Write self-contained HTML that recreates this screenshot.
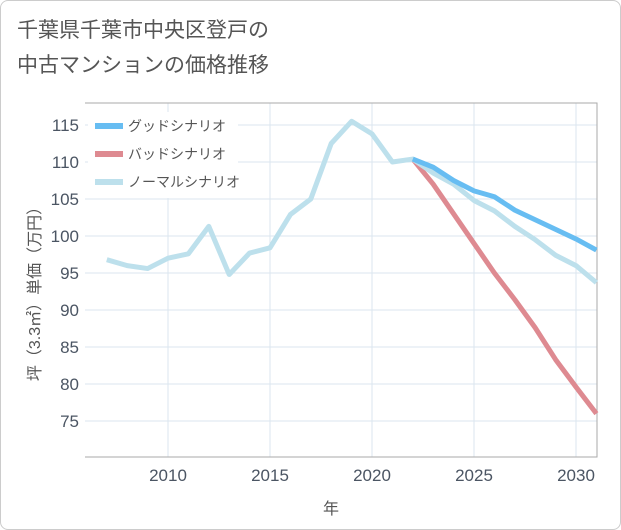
<!DOCTYPE html>
<html><head><meta charset="utf-8"><style>
body{margin:0;background:#fff;font-family:"Liberation Sans","Noto Sans CJK JP",sans-serif;}
#wrap{position:relative;width:619px;height:528px;border:1px solid #ccc;border-radius:8px;overflow:hidden;}
.title{position:absolute;left:16px;top:12px;font-size:21px;line-height:35px;color:#555;}
</style></head><body>
<div id="wrap">
<div class="title">千葉県千葉市中央区登戸の<br>中古マンションの価格推移</div>
<svg id="c" width="621" height="530" style="position:absolute;left:-1px;top:-1px"></svg>
</div>
<script>
const years=[2007,2008,2009,2010,2011,2012,2013,2014,2015,2016,2017,2018,2019,2020,2021,2022,2023,2024,2025,2026,2027,2028,2029,2030,2031];
const normalVals=[96.8,96,95.6,97,97.6,101.3,94.8,97.7,98.4,102.9,105,112.5,115.5,113.8,110,110.4,108.5,107,104.8,103.4,101.3,99.5,97.4,96,93.7];
const futureYears=[2022,2023,2024,2025,2026,2027,2028,2029,2030,2031];
const goodVals=[110.4,109.3,107.5,106.1,105.3,103.5,102.2,100.9,99.6,98.1];
const badVals=[110.4,107,103,99,95,91.4,87.6,83.3,79.6,76];
const yTicks=[75,80,85,90,95,100,105,110,115];
const xTicks=[2010,2015,2020,2025,2030];
const NS="http://www.w3.org/2000/svg";
const svg=document.getElementById('c');
const L=85,R=597,T=103,B=457;
const X=y=>168+(y-2010)*20.4;
const Y=v=>162-(v-110)*7.4;
function mk(t,a){const e=document.createElementNS(NS,t);for(const k in a)e.setAttribute(k,a[k]);svg.appendChild(e);return e;}
yTicks.forEach(v=>{
 const l=mk('line',{x1:L,x2:R,y1:Y(v),y2:Y(v),stroke:'#dbe6ef','stroke-width':1});
 
 
 const t=mk('text',{x:79,y:Y(v)+6,'text-anchor':'end','font-size':17,fill:'#4b5563'});
 t.textContent=v;
 
 
});
xTicks.forEach(v=>{
 const l=mk('line',{x1:X(v),x2:X(v),y1:T,y2:B,stroke:'#dbe6ef','stroke-width':1});
 
 
 const t=mk('text',{x:X(v),y:481,'text-anchor':'middle','font-size':17,fill:'#4b5563'});
 t.textContent=v;
 
 
});
const ax=mk('path',{d:`M${L} ${T}H${R}V${B}H${L}`,fill:'none',stroke:'#aaa','stroke-width':1});


function line(xs,vs,col,name){
 const p=mk('polyline',{points:xs.map((y,i)=>X(y)+','+Y(vs[i])).join(' '),fill:'none',stroke:col,'stroke-width':5,'stroke-linejoin':'round'});
 
 
}
line(futureYears,badVals,'#de8a91','bad-scenario-line');
line(years,normalVals,'#bde0ec','normal-scenario-line');
line(futureYears,goodVals,'#67bdf2','good-scenario-line');
const leg=[['グッドシナリオ','#67bdf2'],['バッドシナリオ','#de8a91'],['ノーマルシナリオ','#bde0ec']];
mk('rect',{x:88,y:112,width:150,height:86,fill:'#fff'});
leg.forEach((d,i)=>{
 const y=126+i*28;
 const l=mk('line',{x1:95,x2:123,y1:y,y2:y,stroke:d[1],'stroke-width':6});
 
 
 const t=mk('text',{x:128,y:y+5,'font-size':14,fill:'#555'});
 t.textContent=d[0];
 
 
});
const xt=mk('text',{x:331,y:514,'text-anchor':'middle','font-size':16,fill:'#555'});
xt.textContent='年';


const yt=mk('text',{x:0,y:0,'text-anchor':'middle','font-size':16,fill:'#555',transform:'translate(40,290) rotate(-90)'});
yt.textContent='坪（3.3㎡）単価（万円）';


</script>
</body></html>
